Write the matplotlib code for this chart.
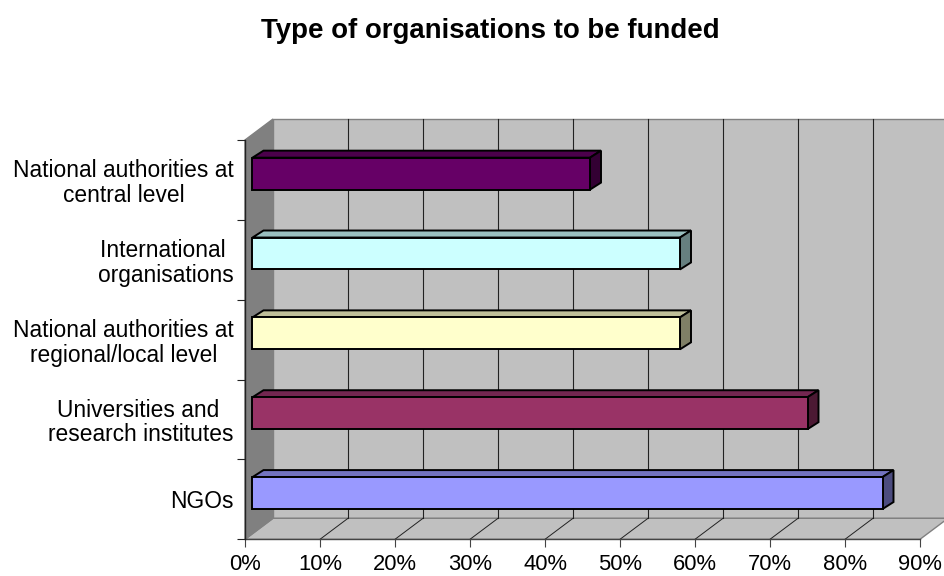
import matplotlib
matplotlib.use('Agg')
import matplotlib.pyplot as plt
from matplotlib.patches import Polygon
from matplotlib.transforms import Affine2D

plt.rcParams['font.family'] = ['Liberation Sans', 'DejaVu Sans']

# bottom to top
categories = ['NGOs', 'Universities and \nresearch institutes',
              'National authorities at\nregional/local level',
              'International \norganisations',
              'National authorities at\ncentral level']
values = [84, 74, 57, 57, 45]
front_colors = ['#9999FF', '#993366', '#FFFFCC', '#CCFFFF', '#660066']
top_colors = ['#7373BF', '#732650', '#BFBF99', '#99BFBF', '#4C004C']
side_colors = ['#4C4C7F', '#4C1933', '#7F7F66', '#667F7F', '#330033']
x_ticks = [0, 10, 20, 30, 40, 50, 60, 70, 80, 90]

W, H = 945, 576
WALL_DX, WALL_DY = 28, 21  # depth of the box, pixels
BAR_DX, BAR_DY = 7.5, 6.3  # where the bar front sits inside the box
DEPTH_DX, DEPTH_DY = 11, 7 # depth of a bar
BAR_H = 0.40

fig = plt.figure(figsize=(W / 100, H / 100), dpi=100, facecolor='white')
ax = fig.add_axes([245 / W, (H - 539.3) / H, 675 / W, 399.3 / H])
ax.set_xlim(0, 90)
ax.set_ylim(0, len(categories))
ax.patch.set_visible(False)
for s in ('top', 'right', 'left', 'bottom'):
    ax.spines[s].set_visible(False)


def shifted(dx, dy):
    return ax.transData + Affine2D().translate(dx, dy)


def poly(pts, trans, **kw):
    p = Polygon(pts, closed=True, transform=trans, clip_on=False, **kw)
    ax.add_patch(p)


n = len(categories)
back = shifted(WALL_DX, WALL_DY)

# box: back wall, floor, left wall
poly([(0, 0), (90, 0), (90, n), (0, n)], back, facecolor='#C0C0C0',
     edgecolor='#808080', lw=1.0, zorder=1)
a = ax.transData.transform((0, 0))
b = ax.transData.transform((90, 0))
c = ax.transData.transform((0, n))
disp = Affine2D()
poly([a, b, (b[0] + WALL_DX, b[1] + WALL_DY), (a[0] + WALL_DX, a[1] + WALL_DY)],
     disp, facecolor='#C0C0C0', edgecolor='#808080', lw=1.0, zorder=1)
poly([a, (a[0] + WALL_DX, a[1] + WALL_DY), (c[0] + WALL_DX, c[1] + WALL_DY), c],
     disp, facecolor='#808080', edgecolor='#808080', lw=1.0, zorder=1)

# grid lines on the wall and the floor
for t in x_ticks[1:-1]:
    ax.plot([t, t], [0, n], transform=back, color='#222222', lw=0.8,
            clip_on=False, zorder=2)
    p = ax.transData.transform((t, 0))
    ax.plot([p[0], p[0] + WALL_DX], [p[1], p[1] + WALL_DY], transform=disp,
            color='#222222', lw=0.7, clip_on=False, zorder=2)

# axis lines
ax.plot([0, 90], [0, 0], color='#444444', lw=1.0, clip_on=False, zorder=3)
ax.plot([0, 0], [0, n], color='#222222', lw=1.0, clip_on=False, zorder=3)

# bars
bar_trans = shifted(BAR_DX, BAR_DY)
for i, v in enumerate(values):
    y0, y1 = i + 0.5 - BAR_H / 2, i + 0.5 + BAR_H / 2
    ax.barh(i + 0.5, v, height=BAR_H, left=0, color=front_colors[i],
            edgecolor='black', linewidth=1.4, transform=bar_trans,
            clip_on=False, zorder=6)
    p0 = bar_trans.transform((0, y1))
    p1 = bar_trans.transform((v, y1))
    p2 = bar_trans.transform((v, y0))
    poly([p0, p1, (p1[0] + DEPTH_DX, p1[1] + DEPTH_DY),
          (p0[0] + DEPTH_DX, p0[1] + DEPTH_DY)], disp,
         facecolor=top_colors[i], edgecolor='black', lw=1.4, zorder=5)
    poly([p1, p2, (p2[0] + DEPTH_DX, p2[1] + DEPTH_DY),
          (p1[0] + DEPTH_DX, p1[1] + DEPTH_DY)], disp,
         facecolor=side_colors[i], edgecolor='black', lw=1.4, zorder=5)

ax.set_xticks(x_ticks)
ax.set_xticklabels(['%d%%' % t for t in x_ticks], fontsize=15.8)
ax.tick_params(axis='x', length=6, width=0.8, color='#444444', pad=4.5)
ax.set_yticks(range(n + 1))
ax.set_yticklabels([])
ax.tick_params(axis='y', which='major', length=6, width=0.8, color='#222222')
ax.set_yticks([i + 0.5 for i in range(n)], minor=True)
ax.set_yticklabels(categories, minor=True, fontsize=16.4, ha='right',
                   multialignment='center', linespacing=1.08)
ax.tick_params(axis='y', which='minor', length=0, pad=8)

fig.text(490 / W, 1 - 31 / H, 'Type of organisations to be funded',
         fontsize=19.9, fontweight='bold', ha='center', va='center')

fig.savefig('out.png', dpi=100)
